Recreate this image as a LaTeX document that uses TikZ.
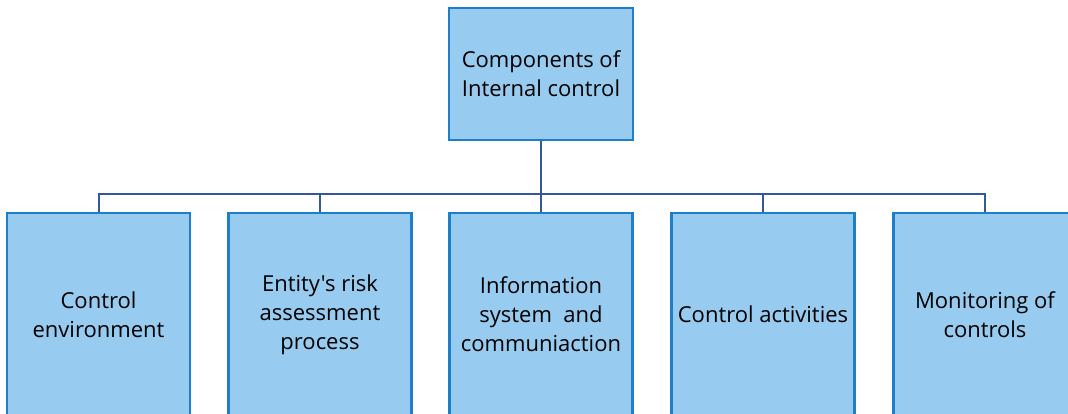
\documentclass[tikz,border=0pt]{standalone}
\usepackage{fontspec}
\setmainfont{Open Sans}[Ligatures=TeXOff]
\usepackage{xcolor}

\definecolor{boxfill}{RGB}{151,203,239}
\definecolor{boxline}{RGB}{30,126,200}
\definecolor{linkline}{RGB}{52,88,160}

\tikzset{
    compbox/.style={draw=boxline, fill=boxfill, line width=1.6pt, align=center, inner sep=0.75pt,
        font=\fontsize{16.5}{21.75}\selectfont},
    topbox/.style={compbox, minimum width=138pt, minimum height=99pt},
    subbox/.style={compbox, minimum width=137.25pt, minimum height=152.25pt},
    link/.style={draw=linkline, line width=1.5pt}
}

\begin{document}
\begin{tikzpicture}[x=0.75pt,y=0.75pt,yscale=-1,xscale=1]
    \useasboundingbox (0,0) rectangle (1068,414);
    \clip (0,0) rectangle (1068,414);
    
    % Top box
    \node [topbox] (comp) at (541,74) {Components of\\Internal control};
    
    % Component boxes
    \node [subbox] (env) at (98.5,314.5) {Control\\environment};
    \node [subbox] (risk) at (320,314.5) {Entity's risk\\assessment\\process};
    \node [subbox] (info) at (541,314.5) {Information\\system\ \ and\\communiaction};
    \node [subbox] (act) at (763,314.5) {Control activities};
    \node [subbox] (mon) at (985,314.5) {Monitoring of\\controls};
    
    % Connectors
    \coordinate (bus) at (541,194);
    \draw [link] (comp.south) -- (bus);
    \draw [link] (env.north) |- (bus);
    \draw [link] (risk.north) |- (bus);
    \draw [link] (info.north) -- (bus);
    \draw [link] (act.north) |- (bus);
    \draw [link] (mon.north) |- (bus);
    
\end{tikzpicture}
\end{document}
